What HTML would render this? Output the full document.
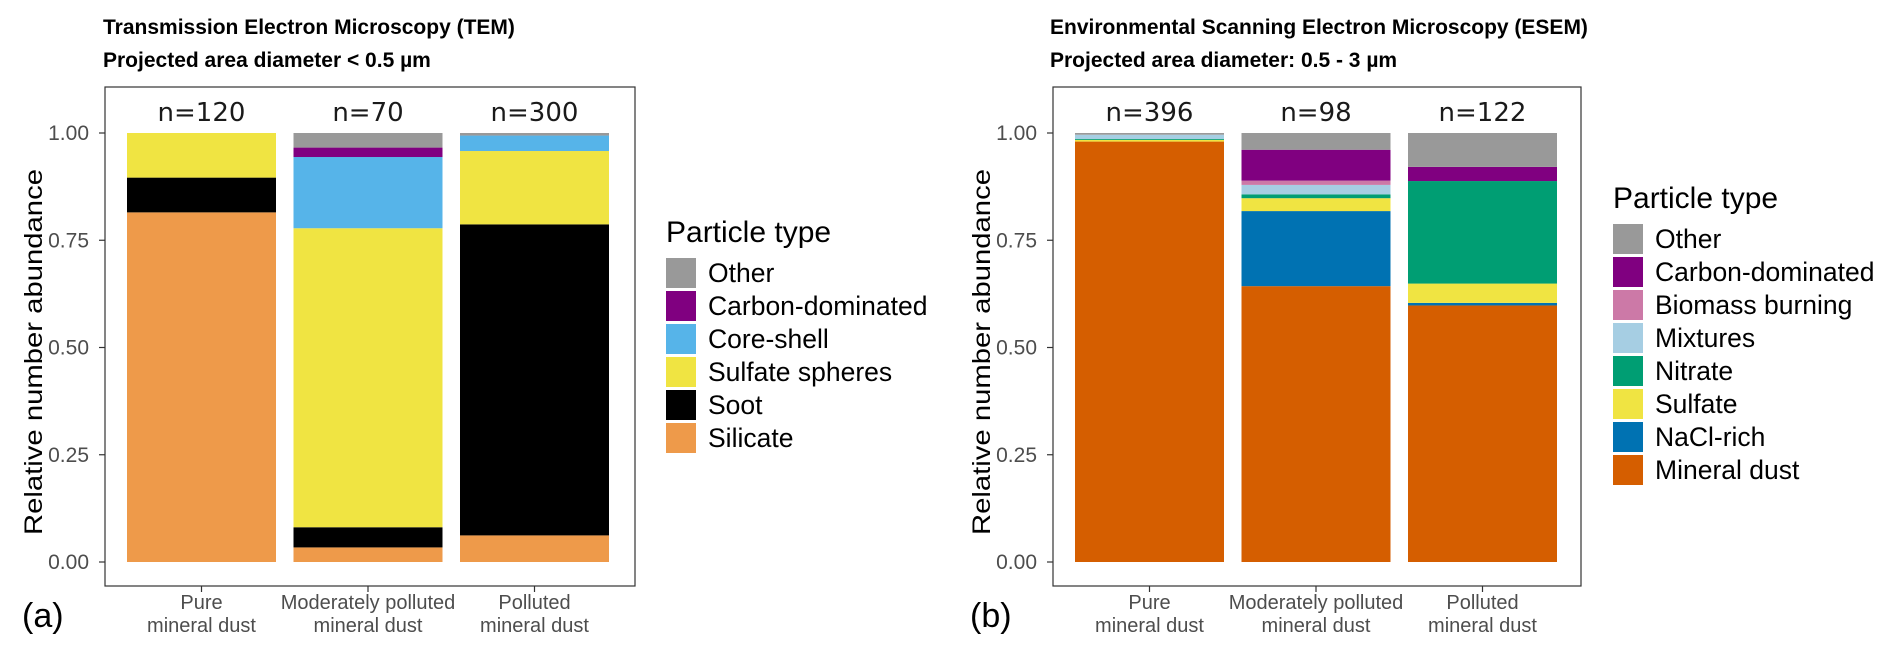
<!DOCTYPE html>
<html><head><meta charset="utf-8"><style>
html,body{margin:0;padding:0;background:#fff}
svg{display:block;font-family:"Liberation Sans",sans-serif}
</style></head><body>
<svg id="c" width="1892" height="654" viewBox="0 0 1892 654"></svg>
<script>
const categories = ["Pure|mineral dust","Moderately polluted|mineral dust","Polluted|mineral dust"];
const yTicks = [0,0.25,0.5,0.75,1.0];
const yTickLabels = ["0.00","0.25","0.50","0.75","1.00"];
// Panel a
const aTypes = ["Silicate","Soot","Sulfate spheres","Core-shell","Carbon-dominated","Other"];
const aColors = ["#EE9A4A","#000000","#F0E442","#56B4E9","#800080","#999999"];
const aSilicate = [0.815,0.034,0.062];
const aSoot = [0.081,0.047,0.725];
const aSulfate = [0.104,0.697,0.171];
const aCoreShell = [0,0.166,0.036];
const aCarbon = [0,0.022,0];
const aOther = [0,0.034,0.006];
const aN = ["n=120","n=70","n=300"];
// Panel b
const bTypes = ["Mineral dust","NaCl-rich","Sulfate","Nitrate","Mixtures","Biomass burning","Carbon-dominated","Other"];
const bColors = ["#D55E00","#0072B2","#F0E442","#009E73","#A6CEE3","#CC79A7","#800080","#999999"];
const bMineral = [0.980,0.643,0.598];
const bNaCl = [0,0.175,0.006];
const bSulfate = [0.004,0.030,0.045];
const bNitrate = [0.002,0.009,0.239];
const bMixtures = [0.010,0.022,0];
const bBiomass = [0,0.010,0];
const bCarbon = [0,0.072,0.033];
const bOther = [0.004,0.039,0.079];
const bN = ["n=396","n=98","n=122"];

const NS="http://www.w3.org/2000/svg";
const svg=document.getElementById('c');
function mk(tag,attrs,parent){const e=document.createElementNS(NS,tag);for(const k in attrs)e.setAttribute(k,attrs[k]);(parent||svg).appendChild(e);return e;}
function txt(s,attrs,parent){const e=mk('text',attrs,parent);e.textContent=s;return e;}

function panel(cfg){
  const g=mk('g',{});
  
  
  const y0=562,y1=133;
  const yS=v=>y0-(y0-y1)*v;
  const bw=149, pitch=166.5;
  const xC=i=>cfg.px0+22+bw/2+i*pitch;
  let t=txt(cfg.title1,{x:cfg.tx,y:34,'font-size':21,'font-weight':'bold',fill:'#000'},g);
  
  t=txt(cfg.title2,{x:cfg.tx,y:67,'font-size':21,'font-weight':'bold',fill:'#000'},g);
  
  const r=mk('rect',{x:cfg.px0,y:87,width:cfg.px1-cfg.px0,height:499,fill:'#fff',stroke:'#333','stroke-width':1.2},g);
  
  for(let i=0;i<3;i++){
    let cum=0;
    cfg.series.forEach((s,k)=>{
      const v=s[i]; if(v<=0) return;
      const b=mk('rect',{x:xC(i)-bw/2,y:yS(cum+v),width:bw,height:yS(cum)-yS(cum+v),fill:cfg.colors[k]},g);
      
      
      cum+=v;
    });
    const n=txt(cfg.n[i],{x:xC(i),y:121,'font-size':26,'font-family':'"DejaVu Sans",sans-serif','text-anchor':'middle',fill:'#1a1a1a'},g);
    
    const parts=categories[i].split('|');
    mk('line',{x1:xC(i),x2:xC(i),y1:586,y2:592,stroke:'#333','stroke-width':1.2},g);
    parts.forEach((p,j)=>{
      const xl=txt(p,{x:xC(i),y:609+j*23,'font-size':20,'text-anchor':'middle',fill:'#4d4d4d'},g);
      
    });
  }
  yTicks.forEach((v,k)=>{
    mk('line',{x1:cfg.px0-6,x2:cfg.px0,y1:yS(v),y2:yS(v),stroke:'#333','stroke-width':1.2},g);
    const tl=txt(yTickLabels[k],{x:cfg.px0-16,y:yS(v)+7,'font-size':21,'text-anchor':'end',fill:'#4d4d4d'},g);
    
  });
  const yt=txt('Relative number abundance',{x:0,y:0,'font-size':25,'text-anchor':'middle',fill:'#000',textLength:366,lengthAdjust:'spacingAndGlyphs',transform:`translate(${cfg.yTitleX},352) rotate(-90)`},g);
  
  const pl=txt(cfg.letter,{x:cfg.letterX,y:627,'font-size':34,fill:'#000'},g);
  
  const lg=mk('g',{},g);
  
  txt('Particle type',{x:cfg.lx,y:cfg.ly+10,'font-size':30,fill:'#000'},lg);
  const order=cfg.types.map((_,k)=>k).reverse();
  order.forEach((k,j)=>{
    const cy=cfg.ly+41+j*33;
    const e=mk('g',{},lg);
    
    mk('rect',{x:cfg.lx,y:cy-15,width:30,height:30,fill:cfg.colors[k]},e);
    txt(cfg.types[k],{x:cfg.lx+42,y:cy+9,'font-size':26.5,fill:'#000'},e);
  });
}
panel({name:'tem-panel',title1:'Transmission Electron Microscopy (TEM)',title2:'Projected area diameter < 0.5 µm',
  tx:103,px0:105,px1:635,yTitleX:42,letter:'(a)',letterX:22,lx:666,ly:232,
  types:aTypes,colors:aColors,series:[aSilicate,aSoot,aSulfate,aCoreShell,aCarbon,aOther],n:aN});
panel({name:'esem-panel',title1:'Environmental Scanning Electron Microscopy (ESEM)',title2:'Projected area diameter: 0.5 - 3 µm',
  tx:1050,px0:1053,px1:1581,yTitleX:990,letter:'(b)',letterX:970,lx:1613,ly:198,
  types:bTypes,colors:bColors,series:[bMineral,bNaCl,bSulfate,bNitrate,bMixtures,bBiomass,bCarbon,bOther],n:bN});
</script>
</body></html>
